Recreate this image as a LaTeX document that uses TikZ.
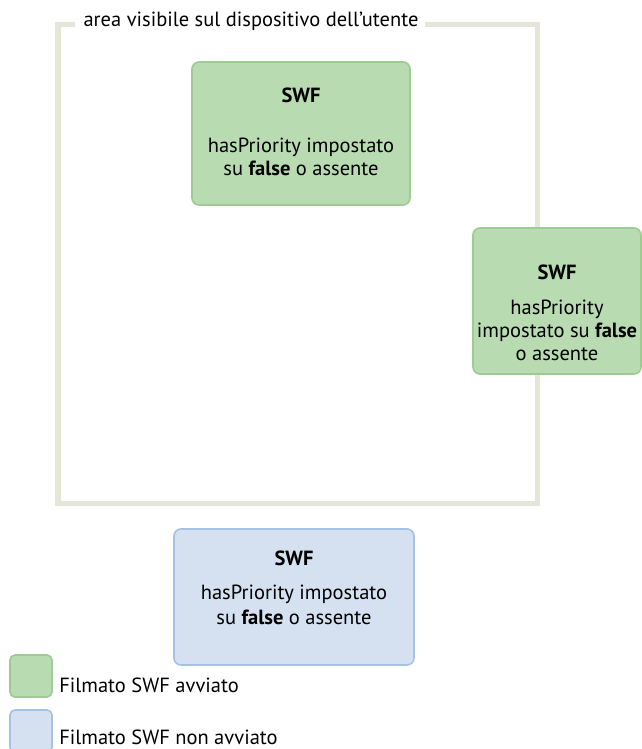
\documentclass[tikz,border=0pt]{standalone}
\usepackage{fontspec}
\setmainfont{PT Sans}
\usetikzlibrary{positioning}
\definecolor{startfill}{HTML}{B9DBB2}
\definecolor{startline}{HTML}{9DCB93}
\definecolor{waitfill}{HTML}{D5E1F0}
\definecolor{waitline}{HTML}{A6C2E2}
\definecolor{framegray}{HTML}{E6E5DA}

\begin{document}
\begin{tikzpicture}[x=1pt,y=-1pt,auto,thin]
\tikzstyle{every node}=[font=\fontsize{20.5}{23}\selectfont]
\tikzstyle{swfbox}=[rectangle,rounded corners=7pt,line width=1.6pt,inner sep=0pt]
\tikzstyle{started}=[swfbox,draw=startline,fill=startfill]
\tikzstyle{waiting}=[swfbox,draw=waitline,fill=waitfill]
\tikzstyle{boxtext}=[align=center,inner sep=0pt,anchor=north]

\useasboundingbox (0,0) rectangle (642,749);

% visible area
\draw[framegray,line width=5.5pt] (75,24.7) -- (57.8,24.7) -- (57.8,503.3) -- (537.5,503.3) -- (537.5,24.7) -- (425,24.7);
\node (L) at (251,21) {area visibile sul dispositivo dell’utente};

\node[started] (A) at (301,133.5) [minimum width=218pt,minimum height=143pt] {};
\node[boxtext] (At) [below=26pt of A.north] {\textbf{SWF}\\[27pt]hasPriority impostato\\su \textbf{false} o assente};

\node[started] (B) at (557,301) [minimum width=168pt,minimum height=146pt] {};
\node[boxtext] (Bt) [below=37pt of B.north] {\textbf{SWF}\\[12pt]hasPriority\\impostato su \textbf{false}\\o assente};

\node[waiting] (C) at (294,597) [minimum width=240pt,minimum height=136pt] {};
\node[boxtext] (Ct) [below=22pt of C.north] {\textbf{SWF}\\[11pt]hasPriority impostato\\[2pt]su \textbf{false} o assente};

% legend
\node[started,minimum size=42pt,rounded corners=5pt] (K1) at (31,676) {};
\node (K1t) [right=3pt of K1, yshift=-9pt] {Filmato SWF avviato};
\node[waiting,minimum size=42pt,rounded corners=5pt] (K2) at (31,731) {};
\node (K2t) [right=3pt of K2, yshift=-6pt, inner ysep=1pt] {Filmato SWF non avviato};
\end{tikzpicture}
\end{document}
